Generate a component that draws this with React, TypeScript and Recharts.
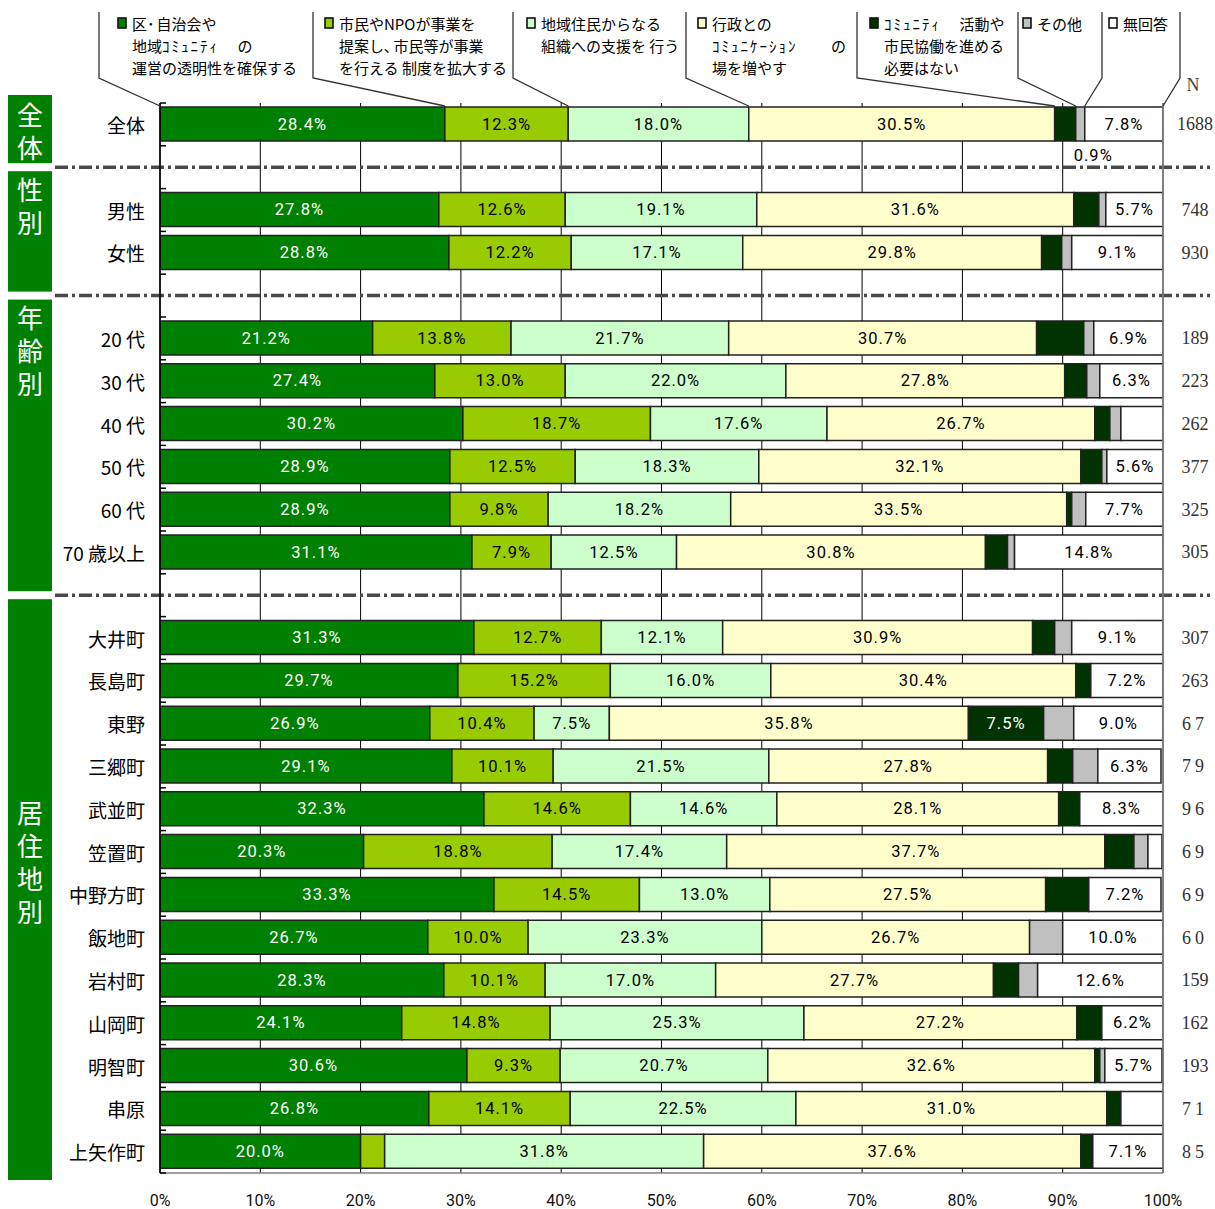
import { BarChart, Bar, XAxis, YAxis, CartesianGrid, LabelList, ReferenceLine } from "recharts";

// Row labels, sample sizes and group sizes (rows listed top to bottom)
const ROWS = [
	"全体",
	"男性", "女性",
	"20 代", "30 代", "40 代", "50 代", "60 代", "70 歳以上",
	"大井町", "長島町", "東野", "三郷町", "武並町", "笠置町", "中野方町",
	"飯地町", "岩村町", "山岡町", "明智町", "串原", "上矢作町",
];
const N_COUNTS = [1688, 748, 930, 189, 223, 262, 377, 325, 305, 307, 263, 67, 79, 96, 69, 69, 60, 159, 162, 193, 71, 85];
const GROUPS = [
	{ title: "全体", size: 1 },
	{ title: "性別", size: 2 },
	{ title: "年齢別", size: 6 },
	{ title: "居住地別", size: 13 },
];

// Answer shares (%) per row
const TRANSPARENCY = [28.4, 27.8, 28.8, 21.2, 27.4, 30.2, 28.9, 28.9, 31.1, 31.3, 29.7, 26.9, 29.1, 32.3, 20.3, 33.3, 26.7, 28.3, 24.1, 30.6, 26.8, 20.0];
const PROPOSALS = [12.3, 12.6, 12.2, 13.8, 13.0, 18.7, 12.5, 9.8, 7.9, 12.7, 15.2, 10.4, 10.1, 14.6, 18.8, 14.5, 10.0, 10.1, 14.8, 9.3, 14.1, 2.4];
const RESIDENT_ORGS = [18.0, 19.1, 17.1, 21.7, 22.0, 17.6, 18.3, 18.2, 12.5, 12.1, 16.0, 7.5, 21.5, 14.6, 17.4, 13.0, 23.3, 17.0, 25.3, 20.7, 22.5, 31.8];
const DIALOGUE = [30.5, 31.6, 29.8, 30.7, 27.8, 26.7, 32.1, 33.5, 30.8, 30.9, 30.4, 35.8, 27.8, 28.1, 37.7, 27.5, 26.7, 27.7, 27.2, 32.6, 31.0, 37.6];
const NOT_NEEDED = [2.1, 2.5, 2.0, 4.7, 2.2, 1.5, 2.1, 0.5, 2.2, 2.2, 1.5, 7.5, 2.5, 2.1, 2.9, 4.3, 0, 2.5, 2.5, 0.5, 1.4, 1.2];
const OTHER = [0.9, 0.7, 1.0, 1.0, 1.3, 1.1, 0.5, 1.4, 0.7, 1.7, 0, 3.0, 2.5, 0, 1.4, 0, 3.3, 1.9, 0, 0.5, 0, 0];
const NO_ANSWER = [7.8, 5.7, 9.1, 6.9, 6.3, 4.2, 5.6, 7.7, 14.8, 9.1, 7.2, 9.0, 6.3, 8.3, 1.4, 7.2, 10.0, 12.6, 6.2, 5.7, 4.2, 7.1];

const PCT_TICKS = [0, 10, 20, 30, 40, 50, 60, 70, 80, 90, 100];

const SERIES = [
	{ key: "transparency", values: TRANSPARENCY, color: "#008000", text: "#ffffff", legend: ["区･自治会や", "地域ｺﾐｭﾆﾃｨ　 の", "運営の透明性を確保する"] },
	{ key: "proposals", values: PROPOSALS, color: "#99cc00", text: "#000000", legend: ["市民やNPOが事業を", "提案し､市民等が事業", "を行える 制度を拡大する"] },
	{ key: "residentOrgs", values: RESIDENT_ORGS, color: "#ccffcc", text: "#000000", legend: ["地域住民からなる", "組織への支援を 行う"] },
	{ key: "dialogue", values: DIALOGUE, color: "#ffffcc", text: "#000000", legend: ["行政との", "ｺﾐｭﾆｹｰｼｮﾝ　　 の", "場を増やす"] },
	{ key: "notNeeded", values: NOT_NEEDED, color: "#003300", text: "#ffffff", legend: ["ｺﾐｭﾆﾃｨ　 活動や", "市民協働を進める", "必要はない"] },
	{ key: "other", values: OTHER, color: "#c0c0c0", text: "#000000", legend: ["その他"] },
	{ key: "noAnswer", values: NO_ANSWER, color: "#ffffff", text: "#000000", legend: ["無回答"] },
];

// Layout
const W = 1215;
const H = 1209;
const PLOT_LEFT = 160;
const PLOT_RIGHT = 1163;
const PLOT_TOP = 103;
const PLOT_BOTTOM = 1173;
const PLOT_W = PLOT_RIGHT - PLOT_LEFT;
const SEP_LEFT = 55;
const SEP_RIGHT = 1210;
const LEGEND_LINE_X = [99, 313, 513, 686, 857, 1018, 1102, 1180];
const LEGEND_TEXT_X = [132, 339, 541, 712, 884, 1037, 1123];
const GROUP_TEXT_TOP = [20, 19, 19, 214];

const JP = '"Noto Sans CJK JP", sans-serif';
const NUM = 'Roboto, "Noto Sans CJK JP", sans-serif';

type Row = { key: string; label: string; n: number | null; [k: string]: string | number | null };

// Stack table with one empty spacer row between groups
const table: Row[] = [];
const groupSpans: { title: string; start: number; end: number }[] = [];
{
	let r = 0;
	GROUPS.forEach((g, gi) => {
		if (gi > 0) {
			const gap: Row = { key: `gap${gi}`, label: "", n: null };
			SERIES.forEach((s) => (gap[s.key] = 0));
			table.push(gap);
		}
		const start = table.length;
		for (let i = 0; i < g.size; i++, r++) {
			const row: Row = { key: `row${r}`, label: ROWS[r], n: N_COUNTS[r] };
			SERIES.forEach((s) => (row[s.key] = s.values[r]));
			table.push(row);
		}
		groupSpans.push({ title: g.title, start, end: table.length - 1 });
	});
}
const rowByKey: Record<string, Row> = Object.fromEntries(table.map((r) => [r.key, r]));
const BAND = (PLOT_BOTTOM - PLOT_TOP) / table.length;
const bandCenter = (i: number) => PLOT_TOP + (i + 0.5) * BAND;
const pctX = (v: number) => PLOT_LEFT + (v / 100) * PLOT_W;

// half-width katakana runs get a little extra tracking
const HALF_KANA = /([\uFF61-\uFF9F]+)/;
const renderRuns = (line: string) =>
	line.split(HALF_KANA).map((part, i) =>
		HALF_KANA.test(part) ? (
			<tspan key={i} letterSpacing={2}>
				{part}
			</tspan>
		) : (
			<tspan key={i}>{part}</tspan>
		)
	);

function RowTick(props: any) {
	const { y, payload } = props;
	const row = rowByKey[payload.value];
	const isLast = payload.value === table[table.length - 1].key;
	return (
		<g>
			<line x1={PLOT_LEFT} x2={PLOT_LEFT + 6} y1={y - BAND / 2} y2={y - BAND / 2} stroke="#000" strokeWidth={1.5} />
			{isLast && <line x1={PLOT_LEFT} x2={PLOT_LEFT + 6} y1={y + BAND / 2} y2={y + BAND / 2} stroke="#000" strokeWidth={1.5} />}
			{row && row.label && (
				<text x={PLOT_LEFT - 15} y={y} textAnchor="end" dominantBaseline="central" fontSize={19} fontFamily={JP} fill="#000">
					{row.label}
				</text>
			)}
		</g>
	);
}

function NTick(props: any) {
	const { y, payload } = props;
	const row = rowByKey[payload.value];
	if (!row || row.n == null) return <g />;
	const s = String(row.n);
	return (
		<text
			x={PLOT_RIGHT + 32}
			y={y}
			textAnchor="middle"
			dominantBaseline="central"
			fontSize={18}
			fontFamily='"Liberation Serif", serif'
			fill="#333"
			letterSpacing={s.length === 2 ? 4 : 0}
		>
			{s}
		</text>
	);
}

const makeLabel = (textColor: string, noteBelow: boolean) => (props: any) => {
	const box = props.viewBox ?? props;
	const { x, y, width, height } = box;
	const value = Number(props.value);
	if (!value) return null;
	if (value >= 5) {
		return (
			<text x={x + width / 2} y={y + height / 2} textAnchor="middle" dominantBaseline="central" fontSize={16.5} letterSpacing={1} fontFamily={NUM} fill={textColor}>
				{value.toFixed(1)}%
			</text>
		);
	}
	// the overall row shows its small "other" share under the bar
	if (noteBelow && props.index === 0) {
		return (
			<text x={x - 2} y={y + height + 14} textAnchor="start" dominantBaseline="central" fontSize={16.5} letterSpacing={1} fontFamily={NUM} fill="#000">
				{value.toFixed(1)}%
			</text>
		);
	}
	return null;
};

const Separator = (props: any) => (
	<line
		x1={props.x1 - (PLOT_LEFT - SEP_LEFT)}
		x2={props.x2 + (SEP_RIGHT - PLOT_RIGHT)}
		y1={props.y1}
		y2={props.y2}
		stroke="#4a4a4a"
		strokeWidth={3.5}
		strokeDasharray="13 4 3 4"
	/>
);

export default function App() {
	// cumulative start of each series in the overall row, for the legend leader lines
	const starts: number[] = [];
	SERIES.reduce((acc, s) => {
		starts.push(acc);
		return acc + s.values[0];
	}, 0);
	starts.push(100);

	return (
		<div style={{ position: "absolute", left: 0, top: 0, width: W, height: H, background: "#fff" }}>
			<BarChart
				width={W}
				height={H}
				data={table}
				layout="vertical"
				barSize={34}
				margin={{ top: PLOT_TOP, right: 0, bottom: 0, left: 0 }}
			>
				<CartesianGrid xAxisId="pct" yAxisId="left" horizontal={false} stroke="#000" strokeWidth={1} />
				<XAxis
					xAxisId="pct"
					type="number"
					domain={[0, 100]}
					ticks={PCT_TICKS}
					allowDataOverflow
					height={H - PLOT_BOTTOM}
					tickFormatter={(v: number) => `${v}%`}
					axisLine={{ stroke: "#808080", strokeWidth: 1.5 }}
					tickLine={false}
					tickMargin={16}
					tick={{ fill: "#111", fontSize: 16, fontFamily: NUM }}
				/>
				<XAxis
					xAxisId="top"
					orientation="top"
					type="number"
					domain={[0, 100]}
					height={0}
					tick={false}
					tickLine={false}
					axisLine={{ stroke: "#808080", strokeWidth: 1.5 }}
				/>
				<YAxis
					yAxisId="left"
					type="category"
					dataKey="key"
					width={PLOT_LEFT}
					interval={0}
					axisLine={{ stroke: "#000", strokeWidth: 1.5 }}
					tickLine={false}
					tick={<RowTick />}
				/>
				<YAxis
					yAxisId="n"
					orientation="right"
					type="category"
					dataKey="key"
					width={W - PLOT_RIGHT}
					interval={0}
					axisLine={{ stroke: "#808080", strokeWidth: 1.5 }}
					tickLine={false}
					tick={<NTick />}
				/>
				{SERIES.map((s) => (
					<Bar
						key={s.key}
						dataKey={s.key}
						xAxisId="pct"
						yAxisId="left"
						stackId="all"
						fill={s.color}
						stroke="#222"
						strokeWidth={1.5}
						isAnimationActive={false}
					>
						<LabelList dataKey={s.key} content={makeLabel(s.text, s.key === "other")} />
					</Bar>
				))}
				{table
					.filter((r) => r.label === "")
					.map((r) => (
						<ReferenceLine key={r.key} y={r.key} xAxisId="pct" yAxisId="left" ifOverflow="visible" shape={Separator} />
					))}
			</BarChart>

			<svg width={W} height={H} style={{ position: "absolute", left: 0, top: 0, pointerEvents: "none" }}>
				{/* group boxes with vertical titles */}
				{groupSpans.map((g, gi) => {
					const top = gi === 0 ? PLOT_TOP - 8 : bandCenter(g.start - 1) + 4;
					const bottom = gi === groupSpans.length - 1 ? PLOT_BOTTOM + 7 : bandCenter(g.end + 1) - 4;
					return (
						<g key={g.title}>
							<rect x={8} y={top} width={44} height={bottom - top} fill="#008000" />
							<text
								x={30}
								y={top + GROUP_TEXT_TOP[gi] - 13}
								style={{ writingMode: "vertical-rl" }}
								fontSize={26}
								letterSpacing={7}
								fontFamily={JP}
								fill="#fff"
							>
								{g.title}
							</text>
						</g>
					);
				})}

				{/* legend with leader lines to the overall bar */}
				{LEGEND_LINE_X.map((lx, i) => (
					<polyline
						key={`lead${i}`}
						points={`${lx},12 ${lx},78 ${pctX(starts[i])},106`}
						fill="none"
						stroke="#333"
						strokeWidth={1.3}
					/>
				))}
				{SERIES.map((s, i) => (
					<g key={`leg${s.key}`}>
						<rect x={LEGEND_TEXT_X[i] - 14} y={18} width={8} height={10} fill={s.color} stroke="#111" strokeWidth={1.6} />
						{s.legend.map((line, li) => (
							<text
								key={li}
								x={LEGEND_TEXT_X[i]}
								y={23 + li * 22}
								dominantBaseline="central"
								fontSize={15}
								fontFamily={JP}
								fill="#000"
							>
								{renderRuns(line)}
							</text>
						))}
					</g>
				))}
				<text x={1193} y={85} textAnchor="middle" dominantBaseline="central" fontSize={18} fontFamily='"Liberation Serif", serif' fill="#444">
					N
				</text>
			</svg>
		</div>
	);
}
